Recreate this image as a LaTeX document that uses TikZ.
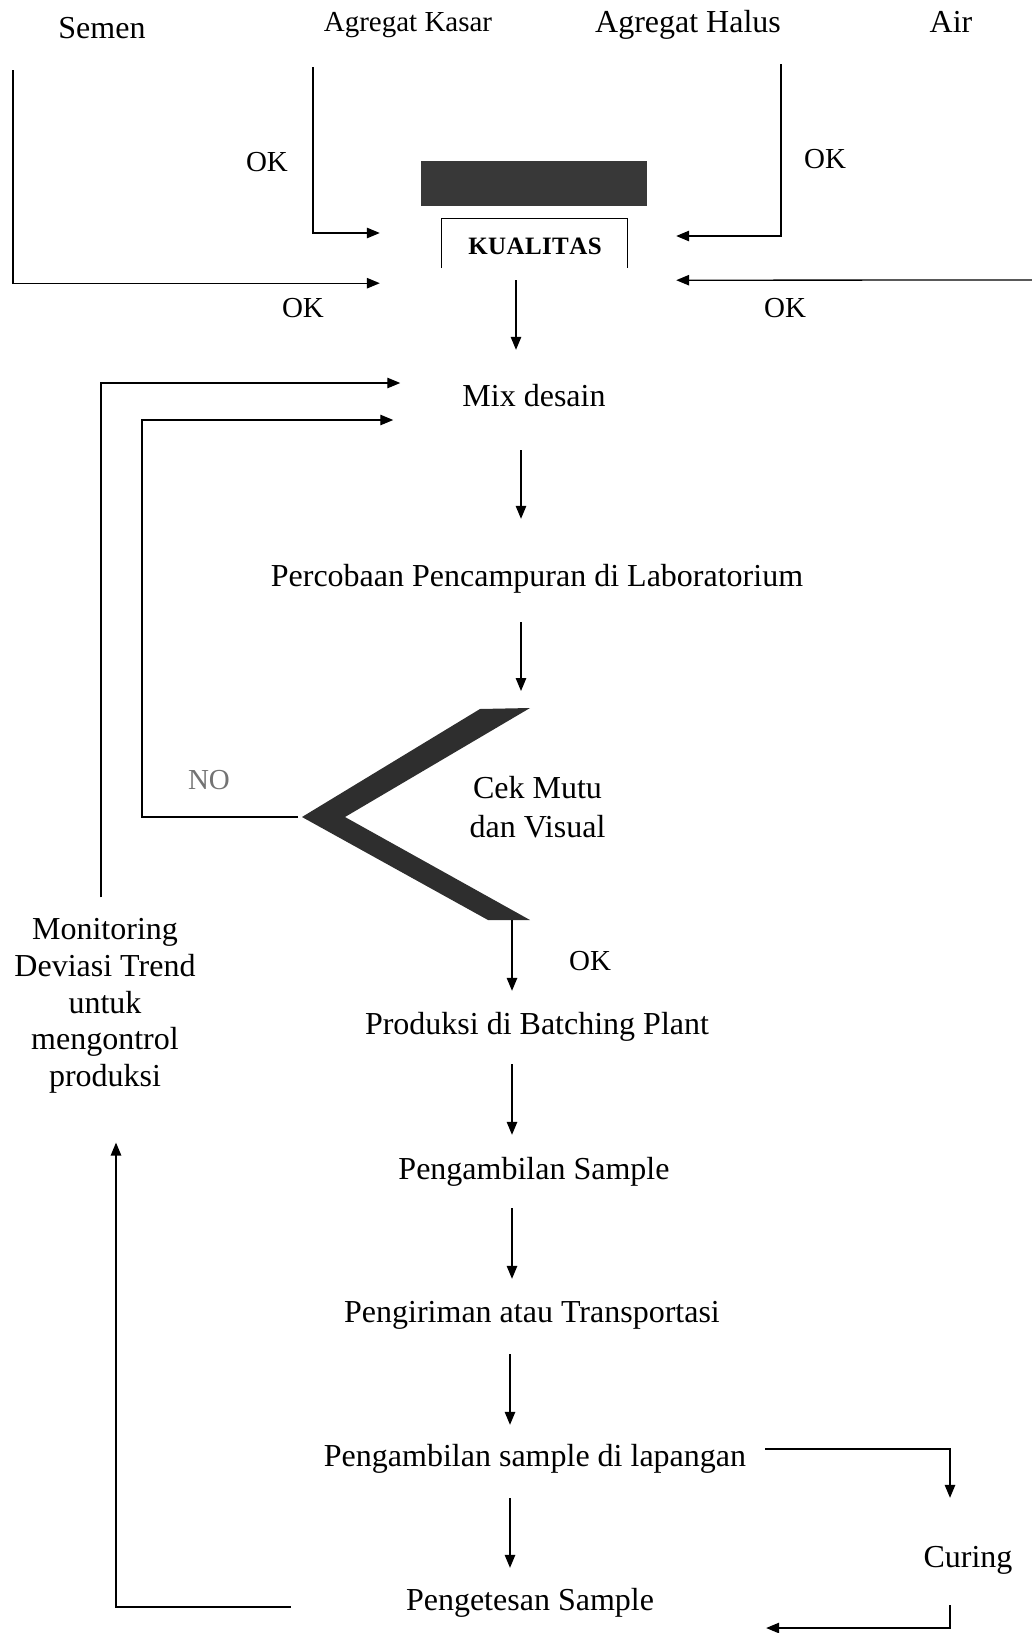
\documentclass[tikz,border=0pt]{standalone}
\usepackage{fontspec}
\setmainfont{Liberation Serif}
\usetikzlibrary{arrows.meta,calc}
\begin{document}
\begin{tikzpicture}[x=1pt,y=-1pt,
  lbl/.style={inner sep=0pt, font=\fontsize{32}{38}\selectfont, text height=22pt, text depth=6pt},
  small/.style={inner sep=0pt, font=\fontsize{29}{34}\selectfont, text height=20pt, text depth=6pt},
  multi/.style={inner sep=0pt, align=center},
  ln/.style={line width=1.3pt, line join=miter},
  arr/.style={ln, -{Triangle[length=13pt,width=10.5pt]}}]
\useasboundingbox (0,0) rectangle (1032,1633);

% source labels
\node[lbl] (semen) at (102,30) {Semen};
\node[small] (kasar) at (408,24) {Agregat Kasar};
\node[lbl] (halus) at (688,24) {Agregat Halus};
\node[lbl] (air) at (951,24) {Air};

\node[small] (ok1) at (267,164) {OK};
\node[small] (ok2) at (303,310) {OK};
\node[small] (ok3) at (825,161) {OK};
\node[small] (ok4) at (785,310) {OK};

% quality block
\fill[black!78] (421,161) rectangle (647,206);
\node[minimum width=185pt, minimum height=49pt, inner sep=0pt] (kual) at (534.5,243.5) {};
\draw[ln] (kual.south west) -- (kual.north west) -- (kual.north east) -- (kual.south east);
\node[inner sep=0pt, font=\fontsize{25}{28}\bfseries\selectfont] (kualt) at (535,246)
  {K\kern0.4pt U\kern0.4pt A\kern0.4pt L\kern0.4pt I\kern0.4pt T\kern0.4pt A\kern0.4pt S};

\coordinate (s1) at (13,70);
\coordinate (k1) at (313,67);
\coordinate (h1) at (781,64);
\coordinate (a1) at (1032,280);
\draw[arr] (s1) |- ([xshift=-62pt,yshift=-15pt]kual.south west);
\draw[arr] (k1) |- ([xshift=-62pt,yshift=10.5pt]kual.west);
\draw[arr] (h1) |- ([xshift=49pt,yshift=7.5pt]kual.east);
\draw[arr] (a1) -- ([xshift=49pt,yshift=-12pt]kual.south east);

% main flow
\node[lbl] (mix) at (534,398) {Mix desain};
\node[lbl] (perc) at (537,578) {Percobaan Pencampuran di Laboratorium};
\node[multi, font=\fontsize{32}{39}\selectfont] (cek) at (537.5,807) {Cek Mutu\\dan Visual};
\node[lbl] (prod) at (537,1026) {Produksi di Batching Plant};
\node[lbl] (samp) at (534,1171) {Pengambilan Sample};
\node[lbl] (kirim) at (532,1314) {Pengiriman atau Transportasi};
\node[lbl] (lap) at (535,1458) {Pengambilan sample di lapangan};
\node[lbl] (test) at (530,1602) {Pengetesan Sample};
\node[lbl] (curing) at (968,1559) {Curing};
\node[multi, font=\fontsize{32}{36.7}\selectfont] (mon) at (105,1006)
  {Monitoring\\Deviasi Trend\\untuk\\mengontrol\\produksi};
\node[small, text=black!55] (no) at (209,782) {NO};
\node[small] (ok5) at (590,963) {OK};

% decision chevron
\fill[black!82] (480,709) -- (302,817) -- (488,920) -- (530,920) -- (345,817) -- (530,708) -- cycle;
\coordinate (chevtip) at (302,817);
\coordinate (chevtop) at (521,708);
\coordinate (chevbot) at (512,920);

\draw[arr] ([xshift=-18.5pt,yshift=-12pt]kual.south) -- ([xshift=-18pt,yshift=34pt]mix.north);
\draw[arr] ([xshift=-13pt,yshift=-38pt]mix.south) -- ([xshift=-16pt,yshift=45pt]perc.north);
\draw[arr] ([xshift=-16pt,yshift=-30pt]perc.south) -- ([yshift=17pt]chevtop);
\draw[arr] (chevbot) -- ([xshift=-25pt,yshift=21pt]prod.north);
\draw[arr] ([xshift=-25pt,yshift=-24pt]prod.south) -- ([xshift=-22pt,yshift=22pt]samp.north);
\draw[arr] ([xshift=-22pt,yshift=-23pt]samp.south) -- ([xshift=-20pt,yshift=21pt]kirim.north);
\draw[arr] ([xshift=-22pt,yshift=-26pt]kirim.south) -- ([xshift=-25pt,yshift=19pt]lap.north);
\draw[arr] ([xshift=-25pt,yshift=-26pt]lap.south) -- ([xshift=-20pt,yshift=20pt]test.north);

% curing branch
\draw[arr] ([xshift=19pt,yshift=9pt]lap.east) -| ([xshift=-18pt,yshift=47pt]curing.north);
\draw[arr] ([xshift=-18pt,yshift=-32pt]curing.south) |- ([xshift=112pt,yshift=-26pt]test.east);

% feedback loops
\draw[arr] ([xshift=-115pt,yshift=-5pt]test.west) -| ([xshift=11pt,yshift=-49pt]mon.south);
\draw[arr] ([xshift=-4pt,yshift=21pt]mon.north) |- ([xshift=-62pt,yshift=15pt]mix.west);
\draw[arr] ([xshift=-4pt]chevtip) -- ++(-156,0) |- ([xshift=-69pt,yshift=-22pt]mix.west);
\end{tikzpicture}
\end{document}
